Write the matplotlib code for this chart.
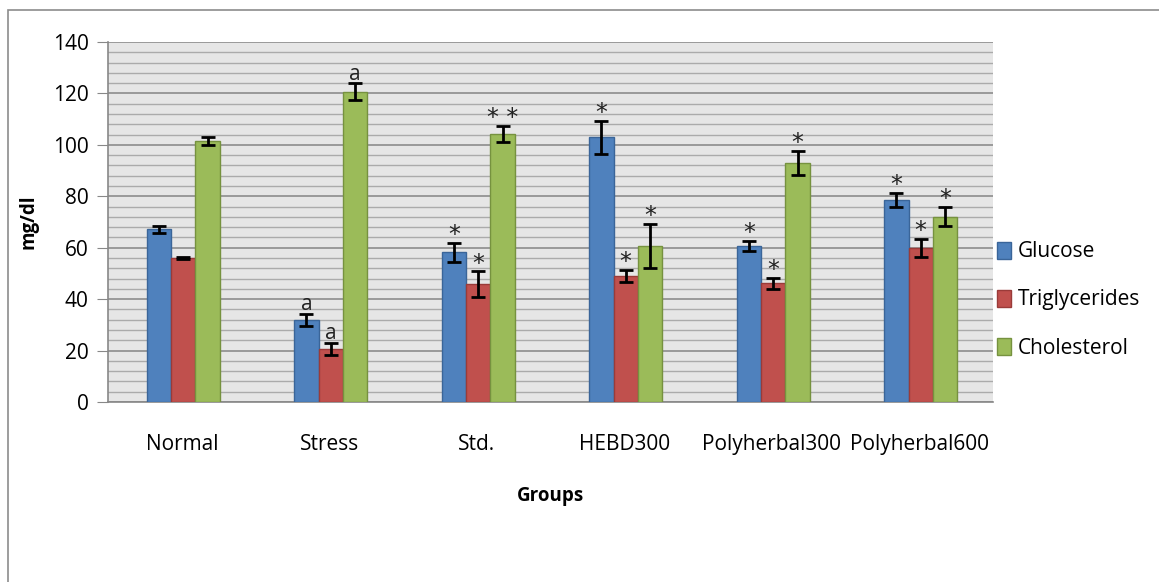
import matplotlib.pyplot as plt
import numpy as np
from matplotlib.patches import Rectangle
from matplotlib.ticker import MultipleLocator

plt.rcParams['font.family'] = ['Open Sans', 'DejaVu Sans']

groups = ['Normal', 'Stress', 'Std.', 'HEBD300', 'Polyherbal300', 'Polyherbal600']
series = ['Glucose', 'Triglycerides', 'Cholesterol']

glucose = [67.2, 31.8, 58.3, 103.0, 60.7, 78.6]
glucose_err = [1.4, 2.4, 3.7, 6.4, 2.0, 2.7]
trig = [56.1, 20.7, 45.9, 49.1, 46.2, 59.8]
trig_err = [0.4, 2.3, 4.9, 2.4, 2.2, 3.6]
chol = [101.5, 120.6, 104.3, 60.7, 93.1, 72.1]
chol_err = [1.5, 3.3, 3.0, 8.4, 4.7, 3.8]

glucose_sig = ['', 'a', '*', '*', '*', '*']
trig_sig = ['', 'a', '*', '*', '*', '*']
chol_sig = ['', 'a', '**', '*', '*', '*']

colors = ['#4F81BD', '#C0504D', '#9BBB59']
edges = ['#3A6599', '#9A3B39', '#76923F']

fig = plt.figure(figsize=(11.59, 5.82), dpi=100)
ax = fig.add_axes([108/1159, 1 - 402/582, (993-108)/1159, (402-42)/582])
ax.set_facecolor('#E6E6E6')

x = np.arange(len(groups))
w = 0.165
data = [(glucose, glucose_err, glucose_sig), (trig, trig_err, trig_sig), (chol, chol_err, chol_sig)]
for i, (vals, errs, sigs) in enumerate(data):
    pos = x + (i - 1) * w + 0.01
    ax.bar(pos, vals, w, color=colors[i], edgecolor=edges[i], linewidth=1, label=series[i], zorder=3)
    ax.errorbar(pos, vals, yerr=errs, fmt='none', ecolor='black', elinewidth=2,
                capsize=5, capthick=2, zorder=4)
    for p, v, e, s in zip(pos, vals, errs, sigs):
        if s == 'a':
            ax.annotate(s, (p, v + e), xytext=(0, -1), textcoords='offset points',
                        ha='center', va='bottom', fontsize=15, color='#222222', zorder=5)
        elif s:
            ax.annotate(s.replace('**', '* *'), (p, v + e), xytext=(0, -3), textcoords='offset points',
                        ha='center', va='bottom', fontsize=17, color='#222222',
                        family='DejaVu Sans', zorder=5)

ax.set_xlim(-0.5, 5.5)
ax.set_ylim(0, 140)
ax.yaxis.set_major_locator(MultipleLocator(20))
ax.yaxis.set_minor_locator(MultipleLocator(4))
ax.grid(True, which='major', axis='y', color='#8C8C8C', linewidth=1.2, zorder=0)
ax.grid(True, which='minor', axis='y', color='#ABABAB', linewidth=1, zorder=0)
ax.set_axisbelow(True)
ax.tick_params(axis='y', which='major', length=8, color='#888888', labelsize=15, pad=6)
ax.tick_params(axis='y', which='minor', length=0)
ax.set_xticks(x)
ax.set_xticklabels(groups)
ax.tick_params(axis='x', length=0, labelsize=15, pad=23)
for s in ['top', 'right']:
    ax.spines[s].set_visible(False)
ax.spines['left'].set_color('#888888')
ax.spines['bottom'].set_color('#888888')
ax.spines['left'].set_linewidth(1.2)
ax.spines['bottom'].set_linewidth(1.2)

ax.set_ylabel('mg/dl', fontsize=13.5, fontweight='bold', labelpad=10)
ax.set_xlabel('Groups', fontsize=13.5, fontweight='bold', labelpad=22)

fig.legend(loc='center left', bbox_to_anchor=(978/1159, 1 - 300/582), frameon=False,
           fontsize=15, labelspacing=1.3, handlelength=0.7, handleheight=0.9,
           handletextpad=0.3)

fig.patches.append(Rectangle((8/1159, -0.01), 1.1, 1 - 10/582 + 0.01, transform=fig.transFigure,
                             fill=False, edgecolor='#8C8C8C', linewidth=1.2))

plt.savefig('out.png', dpi=100)
